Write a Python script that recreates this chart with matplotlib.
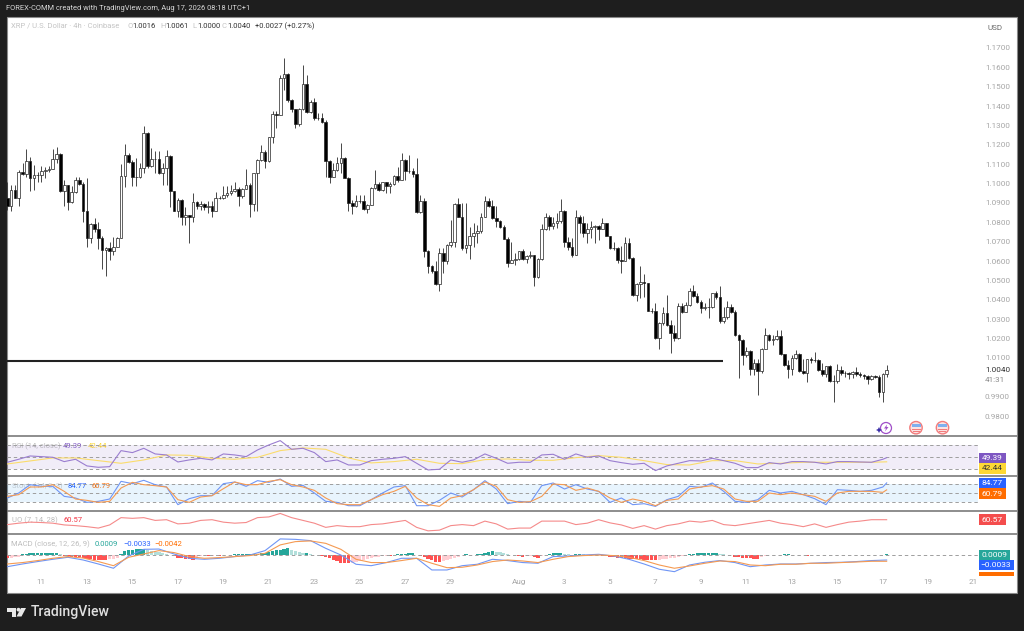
import matplotlib
matplotlib.use("Agg")
import matplotlib.pyplot as plt
from matplotlib.patches import Rectangle, Circle, Polygon

plt.rcParams["font.family"] = ["Roboto", "DejaVu Sans"]

# Candles, one per 4h bar (opens follow the previous close)
first_open = 1.0924
closes = [
    1.0885, 1.0967, 1.0928, 1.1062, 1.1050, 1.1119, 1.1028, 1.1045, 1.1045, 1.1067,
    1.1071, 1.1077, 1.1126, 1.1151, 1.0964, 1.0992, 1.0907, 1.0957, 1.1016, 1.0998,
    1.0856, 1.0718, 1.0790, 1.0764, 1.0718, 1.0658, 1.0666, 1.0654, 1.0675, 1.0718,
    1.1040, 1.1146, 1.1112, 1.1036, 1.1036, 1.1079, 1.1260, 1.1091, 1.1129, 1.1126,
    1.1053, 1.1079, 1.1143, 1.0964, 1.0861, 1.0916, 1.0830, 1.0838, 1.0825, 1.0907,
    1.0885, 1.0893, 1.0881, 1.0883, 1.0859, 1.0928, 1.0924, 1.0942, 1.0950, 1.0962,
    1.0973, 1.0938, 1.0971, 1.0992, 1.0895, 1.1053, 1.1122, 1.1162, 1.1119, 1.1239,
    1.1358, 1.1354, 1.1544, 1.1566, 1.1432, 1.1384, 1.1306, 1.1385, 1.1513, 1.1372,
    1.1420, 1.1337, 1.1337, 1.1320, 1.1119, 1.1036, 1.1071, 1.1108, 1.1131, 1.1031,
    1.0902, 1.0885, 1.0912, 1.0912, 1.0869, 1.0890, 1.0976, 1.0998, 1.0967, 1.1007,
    1.0985, 1.0998, 1.1041, 1.1016, 1.1122, 1.1067, 1.1067, 1.1050, 1.0852, 1.0912,
    1.0654, 1.0577, 1.0549, 1.0482, 1.0641, 1.0598, 1.0684, 1.0701, 1.0895, 1.0830,
    1.0666, 1.0684, 1.0727, 1.0744, 1.0754, 1.0826, 1.0912, 1.0885, 1.0821, 1.0806,
    1.0778, 1.0716, 1.0592, 1.0603, 1.0610, 1.0653, 1.0610, 1.0627, 1.0629, 1.0517,
    1.0610, 1.0766, 1.0826, 1.0782, 1.0794, 1.0807, 1.0859, 1.0696, 1.0672, 1.0630,
    1.0826, 1.0795, 1.0747, 1.0764, 1.0778, 1.0783, 1.0766, 1.0795, 1.0730, 1.0670,
    1.0665, 1.0603, 1.0601, 1.0692, 1.0615, 1.0426, 1.0482, 1.0494, 1.0486, 1.0343,
    1.0343, 1.0202, 1.0279, 1.0331, 1.0271, 1.0231, 1.0202, 1.0369, 1.0339, 1.0374,
    1.0448, 1.0422, 1.0388, 1.0360, 1.0365, 1.0365, 1.0434, 1.0412, 1.0291, 1.0310,
    1.0365, 1.0339, 1.0219, 1.0193, 1.0116, 1.0138, 1.0042, 1.0073, 1.0030, 1.0145,
    1.0217, 1.0193, 1.0197, 1.0214, 1.0119, 1.0064, 1.0045, 1.0099, 1.0119, 1.0030,
    1.0021, 1.0093, 1.0090, 1.0090, 1.0038, 1.0016, 1.0056, 0.9982, 0.9983, 1.0038,
    1.0021, 1.0021, 1.0018, 1.0025, 1.0016, 1.0011, 1.0009, 0.9990, 1.0007, 1.0001,
    0.9923, 1.0016, 1.0040,
]
highs = [
    1.1010, 1.0993, 1.0993, 1.1071, 1.1105, 1.1177, 1.1139, 1.1096, 1.1062, 1.1091,
    1.1084, 1.1091, 1.1177, 1.1188, 1.1157, 1.1019, 1.0993, 1.0985, 1.1033, 1.1033,
    1.1010, 1.1028, 1.0795, 1.0821, 1.0804, 1.0730, 1.0672, 1.0701, 1.0723, 1.0723,
    1.1100, 1.1205, 1.1157, 1.1122, 1.1131, 1.1105, 1.1298, 1.1268, 1.1182, 1.1170,
    1.1170, 1.1105, 1.1174, 1.1148, 1.0964, 1.0924, 1.0919, 1.0881, 1.0838, 1.0950,
    1.0912, 1.0912, 1.0902, 1.0912, 1.0912, 1.0959, 1.0936, 1.0988, 1.0985, 1.0993,
    1.1010, 1.0981, 1.0976, 1.1074, 1.1005, 1.1057, 1.1126, 1.1200, 1.1174, 1.1243,
    1.1377, 1.1377, 1.1561, 1.1647, 1.1573, 1.1435, 1.1384, 1.1389, 1.1612, 1.1561,
    1.1432, 1.1440, 1.1363, 1.1363, 1.1329, 1.1122, 1.1105, 1.1139, 1.1208, 1.1136,
    1.1036, 1.0916, 1.0942, 1.0942, 1.0942, 1.0895, 1.0981, 1.1071, 1.1010, 1.1010,
    1.1010, 1.1010, 1.1045, 1.1088, 1.1157, 1.1126, 1.1148, 1.1079, 1.1131, 1.0942,
    1.0924, 1.0658, 1.0580, 1.0598, 1.0666, 1.0666, 1.0687, 1.0813, 1.0899, 1.0928,
    1.0902, 1.0902, 1.0778, 1.0799, 1.0787, 1.0847, 1.0938, 1.0924, 1.0916, 1.0885,
    1.0813, 1.0787, 1.0723, 1.0701, 1.0644, 1.0654, 1.0661, 1.0632, 1.0654, 1.0632,
    1.0615, 1.0792, 1.0847, 1.0838, 1.0826, 1.0850, 1.0919, 1.0864, 1.0723, 1.0718,
    1.0864, 1.0838, 1.0833, 1.0795, 1.0809, 1.0787, 1.0787, 1.0821, 1.0799, 1.0730,
    1.0701, 1.0675, 1.0678, 1.0723, 1.0718, 1.0623, 1.0486, 1.0575, 1.0534, 1.0489,
    1.0357, 1.0386, 1.0288, 1.0365, 1.0425, 1.0296, 1.0271, 1.0382, 1.0386, 1.0391,
    1.0460, 1.0477, 1.0434, 1.0400, 1.0386, 1.0408, 1.0437, 1.0448, 1.0472, 1.0365,
    1.0396, 1.0379, 1.0348, 1.0224, 1.0197, 1.0155, 1.0142, 1.0093, 1.0097, 1.0149,
    1.0257, 1.0224, 1.0219, 1.0245, 1.0245, 1.0119, 1.0090, 1.0116, 1.0142, 1.0124,
    1.0093, 1.0097, 1.0107, 1.0133, 1.0093, 1.0073, 1.0059, 1.0064, 1.0013, 1.0069,
    1.0056, 1.0030, 1.0025, 1.0030, 1.0052, 1.0025, 1.0016, 1.0013, 1.0013, 1.0013,
    1.0013, 1.0022, 1.0061,
]
lows = [
    1.0864, 1.0859, 1.0924, 1.0885, 1.1045, 1.1036, 1.0964, 1.0967, 1.1010, 1.1010,
    1.1028, 1.1062, 1.1074, 1.1105, 1.0959, 1.0885, 1.0864, 1.0902, 1.0954, 1.0993,
    1.0804, 1.0672, 1.0692, 1.0752, 1.0661, 1.0558, 1.0525, 1.0603, 1.0632, 1.0672,
    1.0718, 1.0981, 1.1105, 1.0985, 1.0988, 1.1028, 1.1053, 1.1079, 1.1084, 1.1057,
    1.1050, 1.0993, 1.0993, 1.0878, 1.0856, 1.0826, 1.0787, 1.0787, 1.0692, 1.0804,
    1.0868, 1.0864, 1.0864, 1.0847, 1.0826, 1.0856, 1.0919, 1.0919, 1.0933, 1.0942,
    1.0959, 1.0885, 1.0924, 1.0971, 1.0826, 1.0856, 1.0859, 1.1119, 1.1079, 1.1114,
    1.1212, 1.1286, 1.1354, 1.1483, 1.1423, 1.1372, 1.1286, 1.1298, 1.1380, 1.1363,
    1.1363, 1.1329, 1.1329, 1.1315, 1.1036, 1.1005, 1.1036, 1.1067, 1.1053, 1.1028,
    1.0861, 1.0844, 1.0878, 1.0902, 1.0864, 1.0850, 1.0890, 1.0971, 1.0964, 1.0964,
    1.0950, 1.0950, 1.0993, 1.1010, 1.1016, 1.1019, 1.1053, 1.1036, 1.0850, 1.0850,
    1.0623, 1.0541, 1.0537, 1.0477, 1.0443, 1.0541, 1.0586, 1.0675, 1.0675, 1.0826,
    1.0658, 1.0641, 1.0610, 1.0675, 1.0692, 1.0744, 1.0826, 1.0878, 1.0818, 1.0778,
    1.0770, 1.0713, 1.0568, 1.0589, 1.0580, 1.0606, 1.0606, 1.0592, 1.0615, 1.0469,
    1.0512, 1.0606, 1.0761, 1.0758, 1.0764, 1.0770, 1.0795, 1.0675, 1.0658, 1.0620,
    1.0630, 1.0744, 1.0723, 1.0692, 1.0718, 1.0692, 1.0709, 1.0764, 1.0727, 1.0661,
    1.0658, 1.0592, 1.0541, 1.0599, 1.0610, 1.0422, 1.0395, 1.0408, 1.0417, 1.0340,
    1.0334, 1.0197, 1.0145, 1.0271, 1.0267, 1.0124, 1.0185, 1.0197, 1.0334, 1.0336,
    1.0370, 1.0417, 1.0382, 1.0331, 1.0348, 1.0305, 1.0357, 1.0403, 1.0279, 1.0279,
    1.0300, 1.0334, 1.0214, 0.9994, 1.0064, 1.0107, 1.0013, 1.0013, 0.9909, 1.0021,
    1.0145, 1.0188, 1.0167, 1.0190, 1.0116, 1.0059, 0.9994, 1.0013, 1.0093, 1.0025,
    1.0018, 0.9978, 1.0073, 1.0081, 1.0030, 1.0007, 1.0004, 0.9976, 0.9875, 0.9973,
    1.0013, 1.0004, 0.9990, 0.9995, 1.0009, 1.0001, 0.9990, 0.9964, 0.9987, 0.9995,
    0.9897, 0.9875, 1.0000,
]
opens = [first_open] + closes[:-1]
support_level = 1.0084
support_end_bar = 188.8

# RSI, sampled every 3 bars, with the moving average every 6 bars
rsi_bars = list(range(0, 232, 3)) + [232]
rsi_values = [
    41.7, 46.7, 52.2, 51.1, 50.0, 42.8, 46.7, 35.6, 33.3, 34.4,
    61.1, 57.8, 65.0, 55.6, 53.9, 42.2, 45.6, 48.3, 45.6, 55.6,
    53.9, 51.1, 62.2, 70.6, 77.8, 63.3, 65.0, 57.8, 42.8, 45.6,
    37.2, 37.2, 44.4, 46.7, 48.3, 51.1, 40.0, 28.9, 30.0, 45.6,
    41.7, 45.6, 55.6, 48.3, 40.0, 41.7, 41.7, 53.9, 55.0, 46.7,
    55.6, 50.0, 52.2, 44.4, 41.1, 38.3, 40.0, 27.8, 35.6, 40.0,
    44.4, 43.9, 48.3, 44.4, 40.0, 32.8, 32.8, 41.1, 38.9, 42.8,
    42.8, 41.7, 38.9, 42.8, 42.8, 42.2, 41.7, 46.7, 49.39,
]
rsi_ma_bars = list(range(0, 229, 6)) + [232]
rsi_ma_values = [
    38.9, 43.9, 48.9, 48.9, 44.4, 40.0, 45.6, 53.9, 53.3, 48.3,
    46.7, 50.0, 61.1, 65.6, 63.3, 48.9, 40.6, 42.8, 46.7, 40.0,
    39.4, 46.1, 47.2, 45.0, 45.0, 49.4, 52.8, 50.0, 44.4, 37.8,
    37.2, 44.4, 44.4, 38.9, 40.0, 41.7, 41.7, 41.7, 41.7, 42.44,
]

# Stochastic and Ultimate Oscillator share the 3-bar sampling
stoch_k = [
    32.8, 50.0, 78.7, 73.0, 73.0, 38.5, 32.8, 17.8, 21.3, 29.3,
    90.2, 82.2, 93.7, 78.7, 70.7, 9.8, 30.5, 40.8, 40.8, 82.2,
    87.9, 73.0, 92.5, 86.8, 98.3, 73.0, 76.4, 50.0, 21.3, 17.8,
    6.3, 6.3, 27.0, 50.0, 70.7, 75.3, 6.3, 6.3, 24.7, 50.0,
    36.2, 61.5, 92.5, 63.8, 13.2, 21.3, 17.8, 75.3, 84.5, 63.8,
    78.7, 63.8, 55.7, 17.8, 32.8, 9.8, 13.2, 4.0, 27.0, 38.5,
    73.0, 69.5, 84.5, 55.7, 21.3, 17.8, 27.0, 59.2, 50.0, 55.7,
    44.3, 30.5, 9.8, 61.5, 59.2, 55.7, 59.2, 70.7, 84.77,
]
stoch_d = [
    38.5, 44.3, 70.7, 70.7, 78.7, 55.7, 29.3, 24.7, 17.8, 21.3,
    67.2, 86.8, 78.7, 75.3, 70.7, 27.0, 17.8, 36.2, 40.8, 64.9,
    87.9, 78.7, 78.7, 90.2, 96.0, 78.7, 70.7, 59.2, 32.8, 13.2,
    9.8, 9.8, 27.0, 44.3, 55.7, 73.0, 32.8, 9.8, 4.0, 32.8,
    40.8, 61.5, 87.9, 73.0, 27.0, 17.8, 20.1, 38.5, 81.0, 78.7,
    59.2, 67.2, 55.7, 32.8, 17.8, 29.3, 21.3, 6.3, 24.7, 29.3,
    63.8, 70.7, 75.3, 63.8, 29.3, 21.3, 21.3, 50.0, 44.3, 50.0,
    44.3, 38.5, 21.3, 50.0, 55.7, 55.7, 55.7, 52.3, 60.79,
]
uo_values = [
    50.2, 53.2, 55.4, 54.6, 53.2, 49.5, 48.0, 45.8, 42.8, 49.5,
    65.0, 63.5, 65.0, 59.1, 60.6, 51.7, 53.2, 59.1, 60.6, 55.4,
    53.2, 54.6, 65.0, 66.5, 73.9, 65.0, 59.1, 53.2, 44.3, 48.0,
    45.8, 45.8, 50.2, 51.7, 55.4, 59.1, 44.3, 36.9, 38.4, 48.0,
    50.2, 48.0, 57.6, 51.7, 40.6, 42.8, 42.8, 57.6, 57.6, 57.6,
    50.2, 53.2, 60.6, 53.9, 49.5, 42.1, 48.0, 40.6, 48.0, 51.7,
    57.6, 55.4, 59.1, 50.2, 48.0, 51.7, 55.4, 59.1, 53.2, 50.2,
    45.8, 51.7, 44.3, 50.2, 55.4, 57.6, 60.6, 60.6, 60.57,
]

# MACD, lines every 4 bars, histogram per bar
macd_bars = list(range(0, 233, 4))
macd_line = [
    -0.0080, -0.0061, -0.0044, -0.0028, -0.0014, -0.0033, -0.0061, -0.0091,
    -0.0005, 0.0042, 0.0044, 0.0009, -0.0021, -0.0028, -0.0021, -0.0009,
    0.0002, 0.0033, 0.0115, 0.0112, 0.0103, 0.0049, 0.0002, -0.0063,
    -0.0073, -0.0051, -0.0021, -0.0021, -0.0103, -0.0103, -0.0073, -0.0063,
    -0.0028, -0.0037, -0.0051, -0.0056, -0.0009, -0.0005, 0.0002, 0.0007,
    -0.0005, -0.0028, -0.0061, -0.0098, -0.0115, -0.0068, -0.0049, -0.0037,
    -0.0051, -0.0080, -0.0068, -0.0061, -0.0061, -0.0056, -0.0051, -0.0049,
    -0.0044, -0.0037, -0.0033,
]
macd_signal = [
    -0.0061, -0.0051, -0.0037, -0.0021, -0.0009, -0.0019, -0.0044, -0.0073,
    -0.0014, 0.0009, 0.0033, 0.0019, -0.0009, -0.0021, -0.0016, -0.0009,
    -0.0002, 0.0014, 0.0073, 0.0096, 0.0101, 0.0084, 0.0042, -0.0028,
    -0.0051, -0.0051, -0.0037, -0.0021, -0.0056, -0.0087, -0.0084, -0.0068,
    -0.0044, -0.0033, -0.0040, -0.0051, -0.0028, -0.0009, -0.0002, 0.0002,
    -0.0002, -0.0014, -0.0037, -0.0068, -0.0091, -0.0075, -0.0056, -0.0040,
    -0.0044, -0.0068, -0.0073, -0.0063, -0.0063, -0.0056, -0.0056, -0.0051,
    -0.0047, -0.0042, -0.0042,
]
macd_hist = [
    -0.0019, -0.0016, -0.0014, -0.0012, 0.0007, 0.0012, 0.0014, 0.0014, 0.0016, 0.0016,
    0.0016, 0.0016, 0.0016, 0.0016, 0.0007, -0.0002, -0.0007, -0.0009, -0.0009, -0.0012,
    -0.0019, -0.0023, -0.0028, -0.0030, -0.0033, -0.0033, -0.0035, -0.0028, -0.0023, -0.0019,
    0.0009, 0.0028, 0.0035, 0.0040, 0.0042, 0.0042, 0.0047, 0.0035, 0.0028, 0.0023,
    0.0021, 0.0016, 0.0012, 0.0005, -0.0007, -0.0016, -0.0021, -0.0026, -0.0028, -0.0030,
    -0.0009, -0.0007, -0.0005, -0.0005, -0.0002, 0.0000, -0.0002, 0.0002, 0.0002, 0.0005,
    0.0007, 0.0007, 0.0007, 0.0007, 0.0009, 0.0009, 0.0012, 0.0014, 0.0019, 0.0023,
    0.0030, 0.0035, 0.0040, 0.0047, 0.0051, 0.0040, 0.0030, 0.0021, 0.0014, 0.0014,
    0.0012, 0.0002, 0.0000, -0.0005, -0.0014, -0.0021, -0.0030, -0.0042, -0.0051, -0.0054,
    -0.0054, -0.0051, -0.0049, -0.0042, -0.0033, -0.0026, -0.0021, -0.0014, -0.0009, -0.0007,
    -0.0005, -0.0005, 0.0002, 0.0007, 0.0009, 0.0012, 0.0014, 0.0014, 0.0005, -0.0005,
    -0.0014, -0.0023, -0.0035, -0.0047, -0.0047, -0.0037, -0.0033, -0.0026, -0.0019, -0.0009,
    0.0002, 0.0007, 0.0005, 0.0005, 0.0007, 0.0012, 0.0016, 0.0021, 0.0028, 0.0026,
    0.0023, 0.0016, 0.0007, 0.0002, 0.0000, -0.0007, -0.0012, -0.0007, -0.0005, -0.0014,
    -0.0016, -0.0005, 0.0005, 0.0009, 0.0014, 0.0016, 0.0019, 0.0012, 0.0007, 0.0002,
    0.0007, 0.0009, 0.0007, 0.0005, 0.0002, 0.0000, 0.0000, -0.0002, -0.0005, -0.0009,
    -0.0014, -0.0016, -0.0019, -0.0021, -0.0023, -0.0026, -0.0028, -0.0028, -0.0030, -0.0030,
    -0.0030, -0.0035, -0.0033, -0.0028, -0.0023, -0.0021, -0.0019, -0.0012, -0.0007, 0.0005,
    0.0009, 0.0012, 0.0014, 0.0014, 0.0014, 0.0014, 0.0016, 0.0016, 0.0009, 0.0007,
    0.0002, 0.0000, -0.0009, -0.0014, -0.0016, -0.0019, -0.0021, -0.0023, -0.0023, -0.0012,
    -0.0005, 0.0002, 0.0002, 0.0002, 0.0005, 0.0007, 0.0007, 0.0002, 0.0000, 0.0000,
    0.0002, -0.0002, 0.0002, 0.0005, 0.0005, 0.0002, 0.0002, 0.0005, 0.0000, 0.0002,
    0.0002, 0.0005, 0.0005, 0.0005, 0.0005, 0.0005, 0.0002, 0.0002, 0.0002, 0.0002,
    0.0002, 0.0005, 0.0009,
]

# Axis labels
price_ticks = [0.98, 0.99, 1.01, 1.02, 1.03, 1.04, 1.05, 1.06, 1.07, 1.08, 1.09, 1.10,
               1.11, 1.12, 1.13, 1.14, 1.15, 1.16, 1.17]
date_bars = [8.9, 20.9, 32.9, 44.9, 56.9, 68.9, 80.9, 92.9, 104.9, 116.9, 134.9,
             146.9, 158.9, 170.9, 182.9, 194.9, 206.9, 218.9, 230.9, 242.9, 254.9]
date_labels = ["11", "13", "15", "17", "19", "21", "23", "25", "27", "29", "Aug",
               "3", "5", "7", "9", "11", "13", "15", "17", "19", "21"]

W, H = 1024, 631
DARK = "#1e1e1e"
AXIS_GRAY = "#a6a6a6"
XMIN, XMAX = -0.09, 256.1  # bar index at the left/right pane edges

fig = plt.figure(figsize=(W / 100, H / 100), dpi=100, facecolor=DARK)

# Full-figure layer in pixel coordinates for frame, labels and icons
bg = fig.add_axes([0, 0, 1, 1], zorder=0)
bg.set_xlim(0, W)
bg.set_ylim(H, 0)
bg.axis("off")
bg.add_patch(Rectangle((7, 17), 1010, 576, fc="white", ec="#8a8a8a", lw=0.8))
for y in [436, 476, 511, 534]:
    bg.plot([7, 1017], [y, y], color="#6f6f6f", lw=1.1, solid_capstyle="butt")


def make_pane(top, bottom, ylim):
    ax = fig.add_axes([7 / W, 1 - bottom / H, (978 - 7) / W, (bottom - top) / H], zorder=1)
    ax.patch.set_alpha(0)
    ax.set_xlim(XMIN, XMAX)
    ax.set_ylim(*ylim)
    ax.set_xticks([])
    ax.set_yticks([])
    for side in ax.spines.values():
        side.set_visible(False)
    return ax


def dashes(ax, levels):
    for level in levels:
        ax.axhline(level, color="#9e9e9e", lw=0.7, ls=(0, (3.5, 3)))


def tag(y0, y1, x1, text, fc, tc="white"):
    bg.add_patch(Rectangle((979, y0), x1 - 979, y1 - y0, fc=fc, ec="none", zorder=3))
    bg.text(x1 - 3, (y0 + y1) / 2, text, color=tc, fontsize=6.0, ha="right", va="center", zorder=4)


# Price pane
ax_price = make_pane(17, 436, (0.9697, 1.1860))
bars = list(range(len(closes)))
ax_price.vlines(bars, lows, highs, color="#3a3a3a", lw=0.65)
heights = [abs(c - o) for o, c in zip(opens, closes)]
bottoms = [min(o, c) for o, c in zip(opens, closes)]
faces = ["white" if c >= o else "black" for o, c in zip(opens, closes)]
ax_price.bar(bars, heights, bottom=bottoms, width=0.7, color=faces, edgecolor="#222222", lw=0.5, zorder=3)
ax_price.plot([XMIN, support_end_bar], [support_level, support_level], color="#222222", lw=1.5,
              solid_capstyle="butt", zorder=4)
ax_price.yaxis.tick_right()
ax_price.set_yticks(price_ticks)
ax_price.set_yticklabels([f"{p:.4f}" for p in price_ticks])
ax_price.tick_params(axis="y", length=0, pad=5, labelsize=5.9, labelcolor=AXIS_GRAY)

# RSI pane
ax_rsi = make_pane(436, 476, (18.8, 85.5))
ax_rsi.axhspan(30, 70, color="#7e57c2", alpha=0.1, lw=0)
dashes(ax_rsi, [30, 50, 70])
ax_rsi.plot(rsi_ma_bars, rsi_ma_values, color="#fbdc6c", lw=0.8)
ax_rsi.plot(rsi_bars, rsi_values, color="#9a7dd0", lw=0.8)

# Stochastic pane
ax_stoch = make_pane(476, 511, (-12, 108.6))
ax_stoch.axhspan(20, 80, color="#2196f3", alpha=0.1, lw=0)
dashes(ax_stoch, [20, 50, 80])
ax_stoch.plot(rsi_bars, stoch_k, color="#6f95f5", lw=0.8)
ax_stoch.plot(rsi_bars, stoch_d, color="#f59a52", lw=0.8)

# Ultimate Oscillator pane
ax_uo = make_pane(511, 534, (30.2, 79.1))
ax_uo.plot(rsi_bars, uo_values, color="#f58a8a", lw=0.8)

# MACD pane, histogram shade follows sign and direction
ax_macd = make_pane(534, 576, (-0.01454, 0.01496))
hist_colors = []
for i, v in enumerate(macd_hist):
    prev = macd_hist[i - 1] if i else v
    if v >= 0:
        hist_colors.append("#26a69a" if v >= prev else "#b2dfdb")
    else:
        hist_colors.append("#ffcdd2" if v > prev else "#ff5252")
ax_macd.bar(bars, macd_hist, width=0.85, color=hist_colors, lw=0)
dashes(ax_macd, [0])
ax_macd.plot(macd_bars, macd_line, color="#6f95f5", lw=0.8)
ax_macd.plot(macd_bars, macd_signal, color="#f59a52", lw=0.8)
ax_macd.set_xticks(date_bars)
ax_macd.set_xticklabels(date_labels)
ax_macd.tick_params(axis="x", length=0, pad=2, labelsize=5.9, labelcolor=AXIS_GRAY)

# Header and legends
bg.text(6, 9, "FOREX-COMM created with TradingView.com, Aug 17, 2026 08:18 UTC+1",
        color="#d8d8d8", fontsize=5.4, va="center")
bg.text(11, 26, "XRP / U.S. Dollar · 4h · Coinbase", color="#c4c4c4", fontsize=5.5, va="center")
for x, label, value in [(127, "O", "1.0016"), (160, "H", "1.0061"), (192, "L", "1.0000"), (222, "C", "1.0040")]:
    bg.text(x, 26, label, color="#c4c4c4", fontsize=5.5, va="center")
    bg.text(x + 5, 26, value, color="#333333", fontsize=5.5, va="center")
bg.text(255, 26, "+0.0027 (+0.27%)", color="#333333", fontsize=5.5, va="center")

LEG = dict(fontsize=5.5, va="center", zorder=5)
bg.text(12, 446, "RSI (14, close)", color="#bdbdbd", **LEG)
bg.text(63, 446, "49.39", color="#7e57c2", **LEG)
bg.text(88, 446, "42.44", color="#fdd835", **LEG)
bg.text(12, 486, "Stoch (14, 3, 3)", color="#cfcfcf", **LEG)
bg.text(68, 486, "84.77", color="#2962ff", **LEG)
bg.text(92, 486, "60.79", color="#ff6d00", **LEG)
bg.text(12, 520, "UO (7, 14, 28)", color="#bdbdbd", **LEG)
bg.text(63, 520, "60.57", color="#f23645", **LEG)
bg.text(11, 544, "MACD (close, 12, 26, 9)", color="#bdbdbd", **LEG)
bg.text(95, 544, "0.0009", color="#26a69a", **LEG)
bg.text(123, 544, "−0.0033", color="#2962ff", **LEG)
bg.text(154, 544, "−0.0042", color="#ff6d00", **LEG)

# Right-hand scale texts and value tags
bg.text(987, 28, "USD", color="#6a6a6a", fontsize=5.8, va="center")
bg.text(985, 370, "1.0040", color="#333333", fontsize=5.9, va="center")
bg.text(985, 380, "41:31", color="#8a8a8a", fontsize=5.9, va="center")
tag(453, 463, 1006, "49.39", "#7e57c2")
tag(463, 474, 1006, "42.44", "#fdd835", "#333333")
tag(478, 488, 1006, "84.77", "#2962ff")
tag(488, 499, 1006, "60.79", "#ff6d00")
tag(514, 525, 1006, "60.57", "#f44d4d")
tag(549.5, 559.7, 1010, "0.0009", "#26a69a")
tag(560, 570, 1014, "−0.0033", "#2962ff")
bg.add_patch(Rectangle((979, 571.5), 35, 4.5, fc="#ff6d00", ec="none", zorder=3))

# Event icons under the last candles
bg.add_patch(Circle((886, 428), 5.5, fc="white", ec="#a04fc8", lw=0.9, zorder=3))
bg.add_patch(Polygon([(887, 424.5), (884, 428.5), (886, 428.5), (885, 431.5), (888.5, 427), (886.5, 427)],
                     fc="#a04fc8", ec="none", zorder=4))
bg.add_patch(Polygon([(879, 427), (880, 429), (882, 430), (880, 431), (879, 433), (878, 431), (876, 430), (878, 429)],
                     fc="#3a2fa8", ec="none", zorder=4))
for cx in [916, 942.5]:
    bg.add_patch(Circle((cx, 427.7), 6.2, fc="#fbe3e3", ec="#f27c7c", lw=1.0, zorder=3))
    bg.add_patch(Rectangle((cx - 4.5, 424.3), 9, 3, fc="#7fb0ee", ec="none", zorder=4))
    bg.add_patch(Rectangle((cx - 4.5, 428.6), 9, 1.3, fc="#f27c7c", ec="none", zorder=4))
    bg.add_patch(Rectangle((cx - 3.5, 431), 7, 1.2, fc="#f27c7c", ec="none", zorder=4))

# Footer logo and wordmark
bg.add_patch(Polygon([(7, 608), (16, 608), (16, 616.5), (12, 616.5), (12, 611.5), (7, 611.5)], fc="#e8e8e8", ec="none"))
bg.add_patch(Circle((18.5, 609.7), 1.9, fc="#e8e8e8", ec="none"))
bg.add_patch(Polygon([(21, 608), (26, 608), (21.5, 616.5), (16.5, 616.5)], fc="#e8e8e8", ec="none"))
bg.text(31, 612, "TradingView", color="#e0e0e0", fontsize=10.1, fontweight="medium", va="center")

fig.savefig("out.png", dpi=100, facecolor=fig.get_facecolor())
